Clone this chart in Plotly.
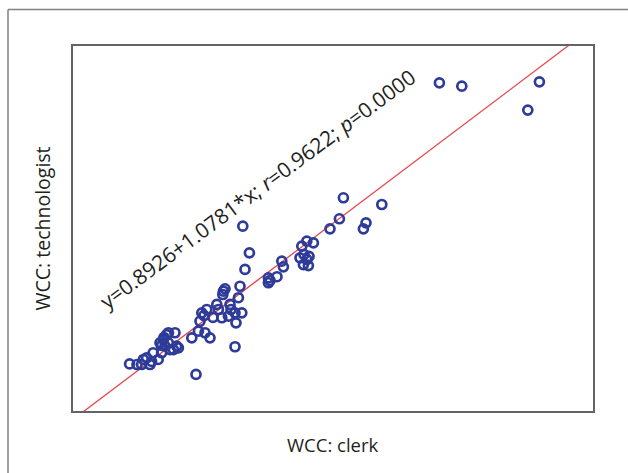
import plotly.graph_objects as go

# WCC values
wcc_clerk = [2.83, 3.2, 3.43, 3.68, 3.85, 3.93, 4.01, 4.26, 4.43, 4.35, 4.52, 4.43, 4.6, 4.68,
             4.77, 4.77, 4.85, 5.1, 5.18, 5.02, 5.27, 4.55, 3.52, 5.94, 6.15, 6.27, 6.35, 6.44,
             6.69, 6.6, 6.85, 6.55, 7.19, 7.27, 7.44, 7.52, 7.49, 7.6, 7.77, 7.85, 8.1, 8.44,
             8.15, 8.27, 8.1, 8.35, 8.6, 8.82, 8.49, 7.0, 7.9,
             9.77, 9.77, 9.85, 10.2, 10.44, 10.52, 11.35, 11.44, 11.69, 12.02, 11.52, 11.69,
             11.77, 11.55, 11.8, 12.85, 13.32, 13.52, 14.52, 14.65, 15.44,
             18.32, 19.44, 23.32, 22.74]
wcc_technologist = [4.86, 4.82, 4.82, 5.30, 4.82, 5.04, 5.66, 5.18, 5.66, 6.37, 6.61, 6.18, 6.13, 6.96,
                    6.37, 7.09, 5.89, 7.09, 6.13, 5.89, 6.01, 6.75, 5.18, 6.73, 4.11, 7.2, 7.91, 8.51,
                    8.75, 7.09, 6.73, 8.32, 9.11, 8.75, 8.16, 10.06, 9.82, 10.23, 8.27, 9.11, 8.51, 8.51,
                    7.8, 9.59, 6.09, 10.41, 11.61, 12.8, 14.7, 8.18, 8.75,
                    10.66, 11.01, 10.82, 11.09, 12.2, 11.8, 12.44, 13.27, 13.63, 13.51, 11.96, 12.32,
                    11.89, 12.68, 12.54, 14.51, 15.23, 16.73, 14.51, 14.94, 16.25,
                    24.94, 24.7, 25.01, 22.99]

intercept = 0.8926
slope = 1.0781
r_value = 0.9622
p_value = 0.0000

x_range = [0, 26]
y_range = [1.5, 27.57]

line_x = [x_range[0], x_range[1]]
line_y = [intercept + slope * v for v in line_x]

font_family = "Open Sans, Lato, sans-serif"
text_color = "#231f20"

fig = go.Figure()
fig.add_trace(go.Scatter(
    x=line_x, y=line_y, mode="lines",
    line=dict(color="#e8474f", width=1.3),
    hoverinfo="skip", showlegend=False,
))
fig.add_trace(go.Scatter(
    x=wcc_clerk, y=wcc_technologist, mode="markers",
    marker=dict(symbol="circle-open", size=9, color="#2e3b98",
                line=dict(width=2.7, color="#2e3b98")),
    showlegend=False,
))

axis_common = dict(showgrid=False, zeroline=False, showticklabels=False, ticks="",
                   showline=True, mirror=True, linecolor="#636466", linewidth=2)
fig.update_xaxes(range=x_range, **axis_common)
fig.update_yaxes(range=y_range, **axis_common)

eq_text = (f"y={intercept:.4f}+{slope:.4f}*x; <i>r</i>={r_value:.4f}; "
           f"<i>p</i>={p_value:.4f}")

fig.update_layout(
    width=628, height=473,
    margin=dict(l=73, r=35, t=46, b=62),
    paper_bgcolor="white", plot_bgcolor="white",
    font=dict(family=font_family, color=text_color, size=18),
    annotations=[
        dict(text=eq_text, xref="paper", yref="paper", x=0.355, y=0.607,
             xanchor="center", yanchor="middle", textangle=-36.5, showarrow=False,
             font=dict(size=21, family=font_family, color=text_color)),
        dict(text="WCC: clerk", xref="paper", yref="paper", x=0.5, y=-0.092,
             xanchor="center", yanchor="middle", showarrow=False,
             font=dict(size=18.5, family=font_family, color=text_color)),
        dict(text="WCC: technologist", xref="paper", yref="paper", x=-0.0577, y=0.5,
             xanchor="center", yanchor="middle", textangle=-90, showarrow=False,
             font=dict(size=19.5, family=font_family, color=text_color)),
    ],
    shapes=[
        dict(type="line", xref="paper", yref="paper", x0=-0.125, y0=-0.2, x1=-0.125, y1=1.1,
             line=dict(color="#808285", width=1.5)),
        dict(type="line", xref="paper", yref="paper", x0=-0.125, y0=1.1, x1=1.1, y1=1.1,
             line=dict(color="#808285", width=1.5)),
    ],
)

fig.write_html("out.html")
